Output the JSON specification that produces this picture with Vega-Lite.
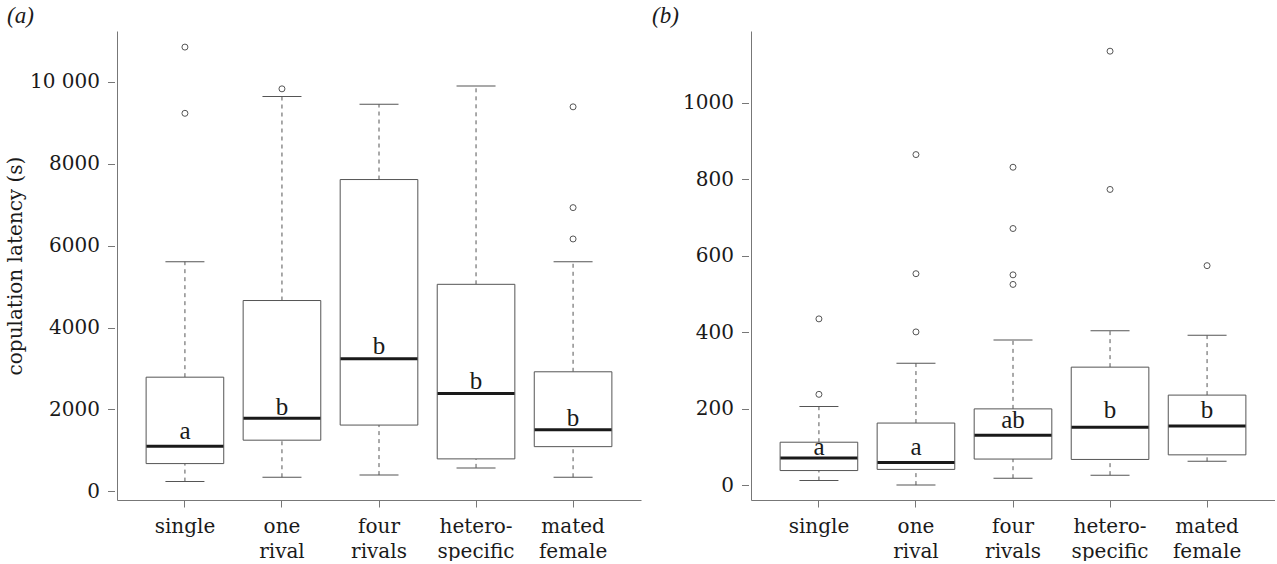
{
  "$schema": "https://vega.github.io/schema/vega-lite/v6.json",
  "background": "white",
  "padding": {"left": 5, "top": 5, "right": 0, "bottom": 0},
  "bounds": "flush",
  "spacing": 110,
  "config": {
    "view": {"stroke": null},
    "axis": {
      "grid": false,
      "domainColor": "#777",
      "tickColor": "#777",
      "labelFont": "DejaVu Serif",
      "labelFontSize": 20,
      "labelColor": "#1a1a1a",
      "titleFont": "DejaVu Serif",
      "titleFontSize": 20,
      "titleFontWeight": "normal",
      "titleColor": "#1a1a1a"
    },
    "title": {"font": "Liberation Serif", "fontSize": 23, "fontWeight": "normal", "fontStyle": "italic", "color": "#1a1a1a"}
  },
  "datasets": {
    "boxes": [
      {"panel": "a", "group": "single", "lo": 237, "q1": 677, "med": 1099, "q3": 2788, "hi": 5611, "letter": "a", "ly": 1278},
      {"panel": "a", "group": "one rival", "lo": 343, "q1": 1249, "med": 1785, "q3": 4661, "hi": 9648, "letter": "b", "ly": 1876},
      {"panel": "a", "group": "four rivals", "lo": 396, "q1": 1618, "med": 3237, "q3": 7617, "hi": 9455, "letter": "b", "ly": 3345},
      {"panel": "a", "group": "hetero-specific", "lo": 572, "q1": 792, "med": 2392, "q3": 5057, "hi": 9903, "letter": "b", "ly": 2509},
      {"panel": "a", "group": "mated female", "lo": 343, "q1": 1091, "med": 1504, "q3": 2920, "hi": 5611, "letter": "b", "ly": 1605},
      {"panel": "b", "group": "single", "lo": 13, "q1": 39, "med": 72, "q3": 113, "hi": 206, "letter": "a", "ly": 79},
      {"panel": "b", "group": "one rival", "lo": 1, "q1": 42, "med": 60, "q3": 163, "hi": 319, "letter": "a", "ly": 79},
      {"panel": "b", "group": "four rivals", "lo": 19, "q1": 69, "med": 131, "q3": 200, "hi": 380, "letter": "ab", "ly": 151},
      {"panel": "b", "group": "hetero-specific", "lo": 27, "q1": 68, "med": 152, "q3": 309, "hi": 404, "letter": "b", "ly": 177},
      {"panel": "b", "group": "mated female", "lo": 63, "q1": 80, "med": 155, "q3": 236, "hi": 392, "letter": "b", "ly": 177}
    ],
    "outliers": [
      {"panel": "a", "group": "single", "v": 9235},
      {"panel": "a", "group": "single", "v": 10853},
      {"panel": "a", "group": "one rival", "v": 9833},
      {"panel": "a", "group": "mated female", "v": 6165},
      {"panel": "a", "group": "mated female", "v": 6931},
      {"panel": "a", "group": "mated female", "v": 9393},
      {"panel": "b", "group": "single", "v": 238},
      {"panel": "b", "group": "single", "v": 435},
      {"panel": "b", "group": "one rival", "v": 401},
      {"panel": "b", "group": "one rival", "v": 553},
      {"panel": "b", "group": "one rival", "v": 864},
      {"panel": "b", "group": "four rivals", "v": 525},
      {"panel": "b", "group": "four rivals", "v": 550},
      {"panel": "b", "group": "four rivals", "v": 671},
      {"panel": "b", "group": "four rivals", "v": 831},
      {"panel": "b", "group": "hetero-specific", "v": 773},
      {"panel": "b", "group": "hetero-specific", "v": 1134},
      {"panel": "b", "group": "mated female", "v": 574}
    ]
  },
  "hconcat": [
    {
      "width": 524,
      "height": 469,
      "title": {"text": "(a)", "anchor": "start", "frame": "group", "dx": -110, "baseline": "alphabetic", "offset": -15},
      "data": {"name": "boxes"},
      "transform": [{"filter": "datum.panel == 'a'"}],
      "encoding": {
        "x": {
          "field": "group", "type": "nominal", "title": null,
          "sort": ["single", "one rival", "four rivals", "hetero-specific", "mated female"],
          "scale": {"paddingInner": 0.2, "paddingOuter": 0.3},
          "axis": {"labelAngle": 0, "tickSize": 7, "tickColor": "#777", "tickWidth": 1, "labelPadding": 9, "labelLineHeight": 25,
                   "labelFont": "DejaVu Serif", "labelFontSize": 20, "labelColor": "#1a1a1a",
                   "labelExpr": "datum.value == 'hetero-specific' ? ['hetero-', 'specific'] : split(datum.value, ' ')"}
        }
      },
      "layer": [
        {
          "mark": {"type": "rule", "color": "#555", "strokeWidth": 1, "strokeDash": [4, 4]},
          "encoding": {
            "y": {"field": "lo", "type": "quantitative",
                  "scale": {"domain": [-212.6, 11246], "nice": false, "zero": false},
                  "axis": {"title": "copulation latency (s)", "values": [0, 2000, 4000, 6000, 8000, 10000],
                           "labelExpr": "datum.value == 10000 ? '10 000' : format(datum.value, 'd')",
                           "labelFont": "DejaVu Serif", "labelFontSize": 20, "labelColor": "#1a1a1a",
                           "titleFont": "DejaVu Serif", "titleFontSize": 20, "titleFontWeight": "normal",
                           "tickSize": 9.5, "tickDash": [0, 2.5, 7, 30], "tickColor": "#777", "labelPadding": 8, "titlePadding": 4}},
            "y2": {"field": "q1"}
          }
        },
        {
          "mark": {"type": "rule", "color": "#555", "strokeWidth": 1, "strokeDash": [4, 4]},
          "encoding": {"y": {"field": "q3", "type": "quantitative"}, "y2": {"field": "hi"}}
        },
        {
          "mark": {"type": "tick", "color": "#555", "size": 39, "thickness": 1, "opacity": 1},
          "encoding": {"y": {"field": "lo", "type": "quantitative"}}
        },
        {
          "mark": {"type": "tick", "color": "#555", "size": 39, "thickness": 1, "opacity": 1},
          "encoding": {"y": {"field": "hi", "type": "quantitative"}}
        },
        {
          "mark": {"type": "bar", "fill": "white", "stroke": "#555", "strokeWidth": 1},
          "encoding": {"y": {"field": "q1", "type": "quantitative"}, "y2": {"field": "q3"}}
        },
        {
          "mark": {"type": "tick", "color": "#1a1a1a", "size": 77, "thickness": 3, "opacity": 1},
          "encoding": {"y": {"field": "med", "type": "quantitative"}}
        },
        {
          "mark": {"type": "text", "font": "Liberation Serif", "fontSize": 25, "baseline": "alphabetic", "color": "#1a1a1a"},
          "encoding": {"y": {"field": "ly", "type": "quantitative"}, "text": {"field": "letter"}}
        },
        {
          "data": {"name": "outliers"},
          "transform": [{"filter": "datum.panel == 'a'"}],
          "mark": {"type": "point", "shape": "circle", "filled": false, "color": "#555", "size": 36, "strokeWidth": 1, "opacity": 1},
          "encoding": {"y": {"field": "v", "type": "quantitative"}}
        }
      ]
    },
    {
      "width": 524,
      "height": 469,
      "title": {"text": "(b)", "anchor": "start", "frame": "group", "dx": -99, "baseline": "alphabetic", "offset": -15},
      "data": {"name": "boxes"},
      "transform": [{"filter": "datum.panel == 'b'"}],
      "encoding": {
        "x": {
          "field": "group", "type": "nominal", "title": null,
          "sort": ["single", "one rival", "four rivals", "hetero-specific", "mated female"],
          "scale": {"paddingInner": 0.2, "paddingOuter": 0.3},
          "axis": {"labelAngle": 0, "tickSize": 7, "tickColor": "#777", "tickWidth": 1, "labelPadding": 9, "labelLineHeight": 25,
                   "labelFont": "DejaVu Serif", "labelFontSize": 20, "labelColor": "#1a1a1a",
                   "labelExpr": "datum.value == 'hetero-specific' ? ['hetero-', 'specific'] : split(datum.value, ' ')"}
        }
      },
      "layer": [
        {
          "mark": {"type": "rule", "color": "#555", "strokeWidth": 1, "strokeDash": [4, 4]},
          "encoding": {
            "y": {"field": "lo", "type": "quantitative",
                  "scale": {"domain": [-37.9, 1186.7], "nice": false, "zero": false},
                  "axis": {"title": null, "values": [0, 200, 400, 600, 800, 1000], "format": "d",
                           "labelFont": "DejaVu Serif", "labelFontSize": 20, "labelColor": "#1a1a1a",
                           "tickSize": 9.5, "tickDash": [0, 2.5, 7, 30], "tickColor": "#777", "labelPadding": 8}},
            "y2": {"field": "q1"}
          }
        },
        {
          "mark": {"type": "rule", "color": "#555", "strokeWidth": 1, "strokeDash": [4, 4]},
          "encoding": {"y": {"field": "q3", "type": "quantitative"}, "y2": {"field": "hi"}}
        },
        {
          "mark": {"type": "tick", "color": "#555", "size": 39, "thickness": 1, "opacity": 1},
          "encoding": {"y": {"field": "lo", "type": "quantitative"}}
        },
        {
          "mark": {"type": "tick", "color": "#555", "size": 39, "thickness": 1, "opacity": 1},
          "encoding": {"y": {"field": "hi", "type": "quantitative"}}
        },
        {
          "mark": {"type": "bar", "fill": "white", "stroke": "#555", "strokeWidth": 1},
          "encoding": {"y": {"field": "q1", "type": "quantitative"}, "y2": {"field": "q3"}}
        },
        {
          "mark": {"type": "tick", "color": "#1a1a1a", "size": 77, "thickness": 3, "opacity": 1},
          "encoding": {"y": {"field": "med", "type": "quantitative"}}
        },
        {
          "mark": {"type": "text", "font": "Liberation Serif", "fontSize": 25, "baseline": "alphabetic", "color": "#1a1a1a"},
          "encoding": {"y": {"field": "ly", "type": "quantitative"}, "text": {"field": "letter"}}
        },
        {
          "data": {"name": "outliers"},
          "transform": [{"filter": "datum.panel == 'b'"}],
          "mark": {"type": "point", "shape": "circle", "filled": false, "color": "#555", "size": 36, "strokeWidth": 1, "opacity": 1},
          "encoding": {"y": {"field": "v", "type": "quantitative"}}
        }
      ]
    }
  ]
}
